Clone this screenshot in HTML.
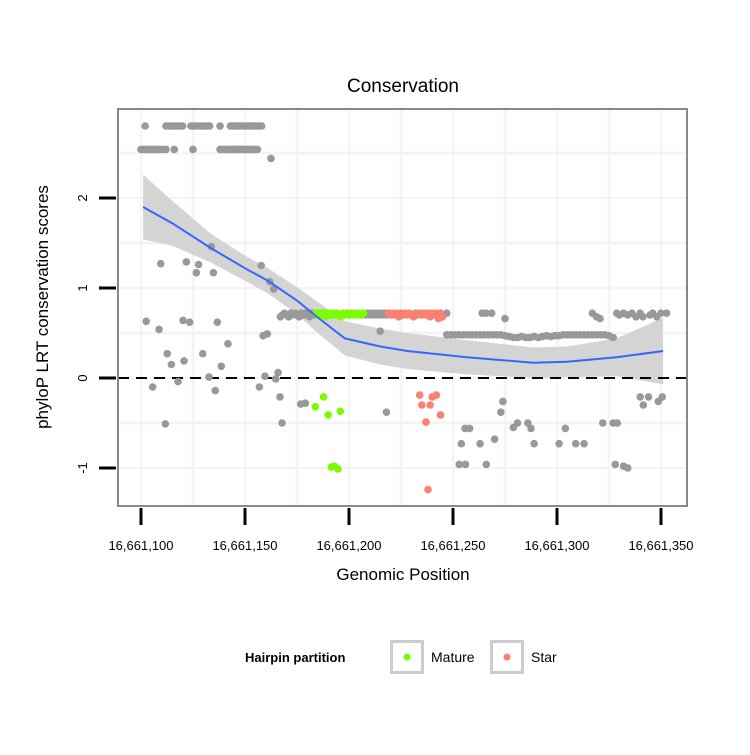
<!DOCTYPE html>
<html><head><meta charset="utf-8"><style>body{margin:0;background:#fff}svg text{font-family:"Liberation Sans",sans-serif}</style></head>
<body>
<svg id="chart" width="750" height="750" xmlns="http://www.w3.org/2000/svg">
<rect width="750" height="750" fill="#fff"/>
<text x="403" y="92" font-size="19" text-anchor="middle">Conservation</text>
<g id="grid"></g><g id="band"></g><g id="pts"></g><g id="axes"></g>
<text x="403" y="580" font-size="17" text-anchor="middle">Genomic Position</text>
<text transform="translate(48,307) rotate(-90)" font-size="17" text-anchor="middle">phyloP LRT conservation scores</text>
<g>
<text x="245" y="662" font-size="13" font-weight="bold">Hairpin partition</text>
<rect x="391.5" y="641.5" width="31" height="31" fill="#fff" stroke="#ccc" stroke-width="3"/>
<circle cx="407" cy="657" r="3.5" fill="#7cfc00"/>
<text x="431" y="662" font-size="14">Mature</text>
<rect x="491.5" y="641.5" width="31" height="31" fill="#fff" stroke="#ccc" stroke-width="3"/>
<circle cx="507" cy="657" r="3.5" fill="#fa8072"/>
<text x="531" y="662" font-size="14">Star</text>
</g>
</svg>
<script>
const NS="http://www.w3.org/2000/svg";
// all x values are offsets from 16,661,100
const xTicks=[0,50,100,150,200,250];
const xTickLabels=["16,661,100","16,661,150","16,661,200","16,661,250","16,661,300","16,661,350"];
const yTicks=[-1,0,1,2];
const yTickLabels=["-1","0","1","2"];
const grayX=[2,12,13,14,15,16,17,18,19,20,24,25,26,27,28,29,30,31,32,33,38,43,44,45,46,47,48,49,50,51,52,53,54,55,56,57,58,
0,1,2,3,4,5,6,7,8,9,10,11,12,16,25,38,39,40,41,42,43,44,45,46,47,48,49,50,51,52,53,54,55,56,62.5,
33.8,9.5,21.8,27.7,26.6,34.8,57.8,61.9,63.8,2.5,8.7,20.2,23.4,36.7,58.7,60.7,41.8,12.6,29.7,14.6,20.7,38.6,32.7,59.6,65.9,64.8,17.8,5.6,35.7,56.9,66.8,76.8,79,11.7,67.8,115,118,
67,68,69,70,71,72,73,74,75,76,77,78,79,80,81,82,83,84,108,109,110,111,112,113,114,115,116,117,118,
147,164,166,168.6,175,217,219,220.7,228.7,230,232,234,236,238,240,241.3,244.7,246,248,250,252.7,
174,173,155.8,158,154,163,170,153,156,166,179,181,186,187.5,189,204,201,209,213,222,227,229,228,232,234,240,244,241.5,248.7,250.6];
const grayY=[2.8,2.8,2.8,2.8,2.8,2.8,2.8,2.8,2.8,2.8,2.8,2.8,2.8,2.8,2.8,2.8,2.8,2.8,2.8,2.8,2.8,2.8,2.8,2.8,2.8,2.8,2.8,2.8,2.8,2.8,2.8,2.8,2.8,2.8,2.8,2.8,2.8,
2.54,2.54,2.54,2.54,2.54,2.54,2.54,2.54,2.54,2.54,2.54,2.54,2.54,2.54,2.54,2.54,2.54,2.54,2.54,2.54,2.54,2.54,2.54,2.54,2.54,2.54,2.54,2.54,2.54,2.54,2.54,2.54,2.54,2.54,2.44,
1.46,1.27,1.29,1.26,1.17,1.17,1.25,1.07,0.99,0.63,0.54,0.64,0.62,0.62,0.47,0.49,0.38,0.27,0.27,0.15,0.19,0.13,0.01,0.02,0.06,-0.01,-0.04,-0.10,-0.14,-0.10,-0.21,-0.29,-0.28,-0.51,-0.50,0.52,-0.38,
0.68,0.7,0.72,0.7,0.68,0.72,0.7,0.72,0.7,0.68,0.72,0.7,0.72,0.7,0.68,0.72,0.7,0.72,0.7,0.72,0.7,0.72,0.7,0.72,0.7,0.72,0.7,0.72,0.7,
0.72,0.72,0.72,0.72,0.66,0.72,0.68,0.66,0.72,0.7,0.72,0.7,0.72,0.68,0.72,0.68,0.7,0.72,0.68,0.72,0.72,
-0.26,-0.38,-0.56,-0.56,-0.73,-0.73,-0.68,-0.96,-0.96,-0.96,-0.55,-0.50,-0.50,-0.56,-0.73,-0.56,-0.73,-0.73,-0.73,-0.50,-0.50,-0.50,-0.96,-0.98,-1.00,-0.21,-0.21,-0.30,-0.26,-0.21];
const bandX=[147,149,151,153,155,157,159,161,163,165,167,169,171,173,175,177,179,181,183,185,187,189,191,193,195,197,199,201,203,205,207,209,211,213,215,217,219,221,223,225,227];
const bandY=[0.48,0.48,0.48,0.48,0.48,0.48,0.48,0.48,0.48,0.48,0.48,0.48,0.48,0.48,0.47,0.46,0.45,0.45,0.46,0.45,0.45,0.46,0.45,0.46,0.47,0.46,0.47,0.47,0.48,0.48,0.48,0.48,0.48,0.48,0.48,0.48,0.48,0.48,0.48,0.47,0.45];
const matureX=[84,85,86,87,88,89,90,91,92,93,94,95,96,97,98,99,100,101,102,103,104,105,106,107,87.8,83.8,90,95.8,91.5,94.7,93];
const matureY=[0.72,0.7,0.72,0.7,0.72,0.68,0.72,0.7,0.72,0.7,0.72,0.7,0.68,0.72,0.7,0.72,0.7,0.72,0.7,0.72,0.7,0.72,0.7,0.72,-0.21,-0.32,-0.41,-0.37,-0.99,-1.01,-0.98];
const starX=[119,120,121,122,123,124,125,126,127,128,129,130,131,132,133,134,135,136,137,138,139,140,141,142,143,144,145,134,135,139,140,142,144,137,138];
const starY=[0.72,0.7,0.72,0.7,0.72,0.68,0.72,0.7,0.72,0.7,0.72,0.7,0.68,0.72,0.7,0.72,0.7,0.72,0.7,0.72,0.68,0.72,0.7,0.72,0.66,0.72,0.68,-0.19,-0.30,-0.30,-0.21,-0.19,-0.41,-0.49,-1.24];
const fitX=[1,15,33.8,50,61,75,83.5,98,115,128,156.6,188.6,204.7,228.7,251];
const fitY=[1.90,1.72,1.44,1.22,1.08,0.86,0.70,0.44,0.35,0.30,0.23,0.17,0.18,0.23,0.30];
const fitSE=[0.36,0.25,0.16,0.14,0.14,0.15,0.17,0.19,0.2,0.2,0.19,0.17,0.17,0.21,0.37];
const X=v=>141+v*2.08, Y=v=>378-v*90;
const mk=(t,p,a)=>{const e=document.createElementNS(NS,t);for(const k in a)e.setAttribute(k,a[k]);p.appendChild(e);return e;};
const grid=document.getElementById('grid'),band=document.getElementById('band'),pts=document.getElementById('pts'),axes=document.getElementById('axes');
let r=mk('rect',grid,{x:118,y:109,width:569,height:397,fill:'#fff'});


for(let v=-25;v<=275;v+=25){const x=X(v);if(x>118&&x<687){mk('line',grid,{x1:x,x2:x,y1:109,y2:506,stroke:'#f4f4f4','stroke-width':v%50?3:2});}}
for(let v=-1.5;v<=3;v+=0.5){const y=Y(v);if(y>109&&y<506){mk('line',grid,{x1:118,x2:687,y1:y,y2:y,stroke:'#f4f4f4','stroke-width':v%1?3:2});}}
let up=fitX.map((x,i)=>X(x)+','+Y(fitY[i]+fitSE[i])),lo=fitX.map((x,i)=>X(x)+','+Y(fitY[i]-fitSE[i])).reverse();
let bp=mk('polygon',band,{points:up.concat(lo).join(' '),fill:'#d4d4d4'});


let zl=mk('line',band,{x1:118,x2:687,y1:Y(0),y2:Y(0),stroke:'#000','stroke-width':2,'stroke-dasharray':'11,7'});


function draw(xs,ys,col,name){xs.forEach((x,i)=>{const c=mk('circle',pts,{cx:X(x),cy:Y(ys[i]),r:3.8,fill:col});

});}
draw(grayX,grayY,'#999','point-other');draw(bandX,bandY,'#999','point-other');
draw(matureX,matureY,'#7cfc00','point-mature');draw(starX,starY,'#fa8072','point-star');
let fl=mk('polyline',pts,{points:fitX.map((x,i)=>X(x)+','+Y(fitY[i])).join(' '),fill:'none',stroke:'#3366ff','stroke-width':2,'stroke-linejoin':'round'});


let pb=mk('rect',axes,{x:118,y:109,width:569,height:397,fill:'none',stroke:'#888','stroke-width':2});


xTicks.forEach((v,i)=>{mk('line',axes,{x1:X(v),x2:X(v),y1:508,y2:525,stroke:'#000','stroke-width':3});
const t=mk('text',axes,{x:X(v),y:550,'font-size':13,'text-anchor':'middle'});t.textContent=xTickLabels[i];

});
yTicks.forEach((v,i)=>{mk('line',axes,{x1:99,x2:116,y1:Y(v),y2:Y(v),stroke:'#000','stroke-width':3});
const t=mk('text',axes,{transform:`translate(87,${Y(v)}) rotate(-90)`,'font-size':13,'text-anchor':'middle'});t.textContent=yTickLabels[i];

});
</script>
</body></html>
